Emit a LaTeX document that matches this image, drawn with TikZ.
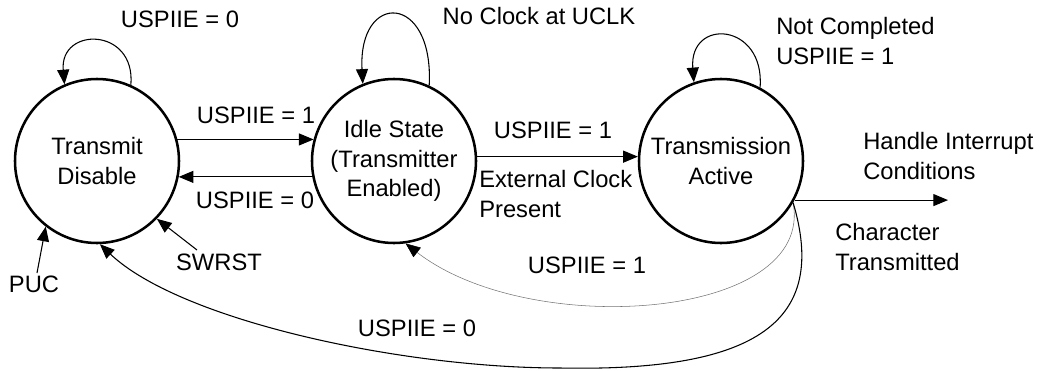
\documentclass[tikz,border=0pt]{standalone}
\usepackage{fontspec}
\setmainfont{Liberation Sans}
\usetikzlibrary{arrows.meta}
\newcommand{\dfont}{\fontsize{17.8}{22}\selectfont}
\begin{document}
\begin{tikzpicture}[x=0.75pt,y=-0.75pt,
  state/.style={circle, draw, line width=1.9pt, minimum size=123pt, inner sep=0pt, align=center, font=\dfont},
  lbl/.style={inner sep=0pt, font=\dfont},
  lbll/.style={lbl, align=left, anchor=west},
  arr/.style={-{Triangle[length=11pt,width=9pt]}, line width=0.8pt},
  thinarr/.style={-{Triangle[length=11pt,width=9pt,color=black]}, line width=0.4pt, draw=black!55}]
\useasboundingbox (0,0) rectangle (1043,371);
\node[state] (td) at (97,161) {Transmit\\Disable};
\node[state] (idle) at (394,161) {Idle State\\(Transmitter\\Enabled)};
\node[state] (ta) at (721,161) {Transmission\\Active};
% labels
\node[lbl] (l1) at (180,19) {USPIIE = 0};
\node[lbl] (l2) at (539,16) {No Clock at UCLK};
\node[lbll] (l3) at (776,41) {Not Completed\\USPIIE = 1};
\node[lbl] (l4) at (256,115) {USPIIE = 1};
\node[lbl] (l5) at (255,200) {USPIIE = 0};
\node[lbl] (l6) at (553,130) {USPIIE = 1};
\node[lbll] (l7) at (479,194) {External Clock\\Present};
\node[lbll] (l8) at (863,156) {Handle Interrupt\\Conditions};
\node[lbll] (l9) at (835,247) {Character\\Transmitted};
\node[lbl] (puc) at (34,284) {PUC};
\node[lbl] (swrst) at (219,262) {SWRST};
\node[lbl] (l10) at (587,265) {USPIIE = 1};
\node[lbl] (l11) at (417,328) {USPIIE = 0};
% self loops
\draw[arr] (td.66) .. controls +(5,-58) and +(-5,-58) .. (td.113);
\draw[arr] (idle.65) .. controls +(5,-93) and +(-5,-93) .. (idle.112);
\draw[arr] (ta.62) .. controls +(5,-65) and +(-5,-65) .. (ta.109);
% straight transitions
\draw[arr] (td.15) -- (idle.165);
\draw[arr] (idle.191) -- (td.-11);
\draw[arr] (idle.3) -- (ta.177);
\coordinate (hiend) at (948,201);
\draw[arr] (ta.-28) -- (ta.-28 -| hiend);
\coordinate (pucs) at (37,273);
\draw[arr] (pucs) -- (td.232);
\coordinate (sws) at (197,250);
\draw[arr] (sws) -- (td.-44);
% return curves
\draw[thinarr] (ta.-30) .. controls (815,320) and (530,340) .. (idle.-82);
\coordinate (low) at (560,368);
\draw[arr] (ta.-30) .. controls (828,320) and (760,372) .. (low)
  .. controls (400,368) and (180,320) .. (td.-88);
\end{tikzpicture}
\end{document}
